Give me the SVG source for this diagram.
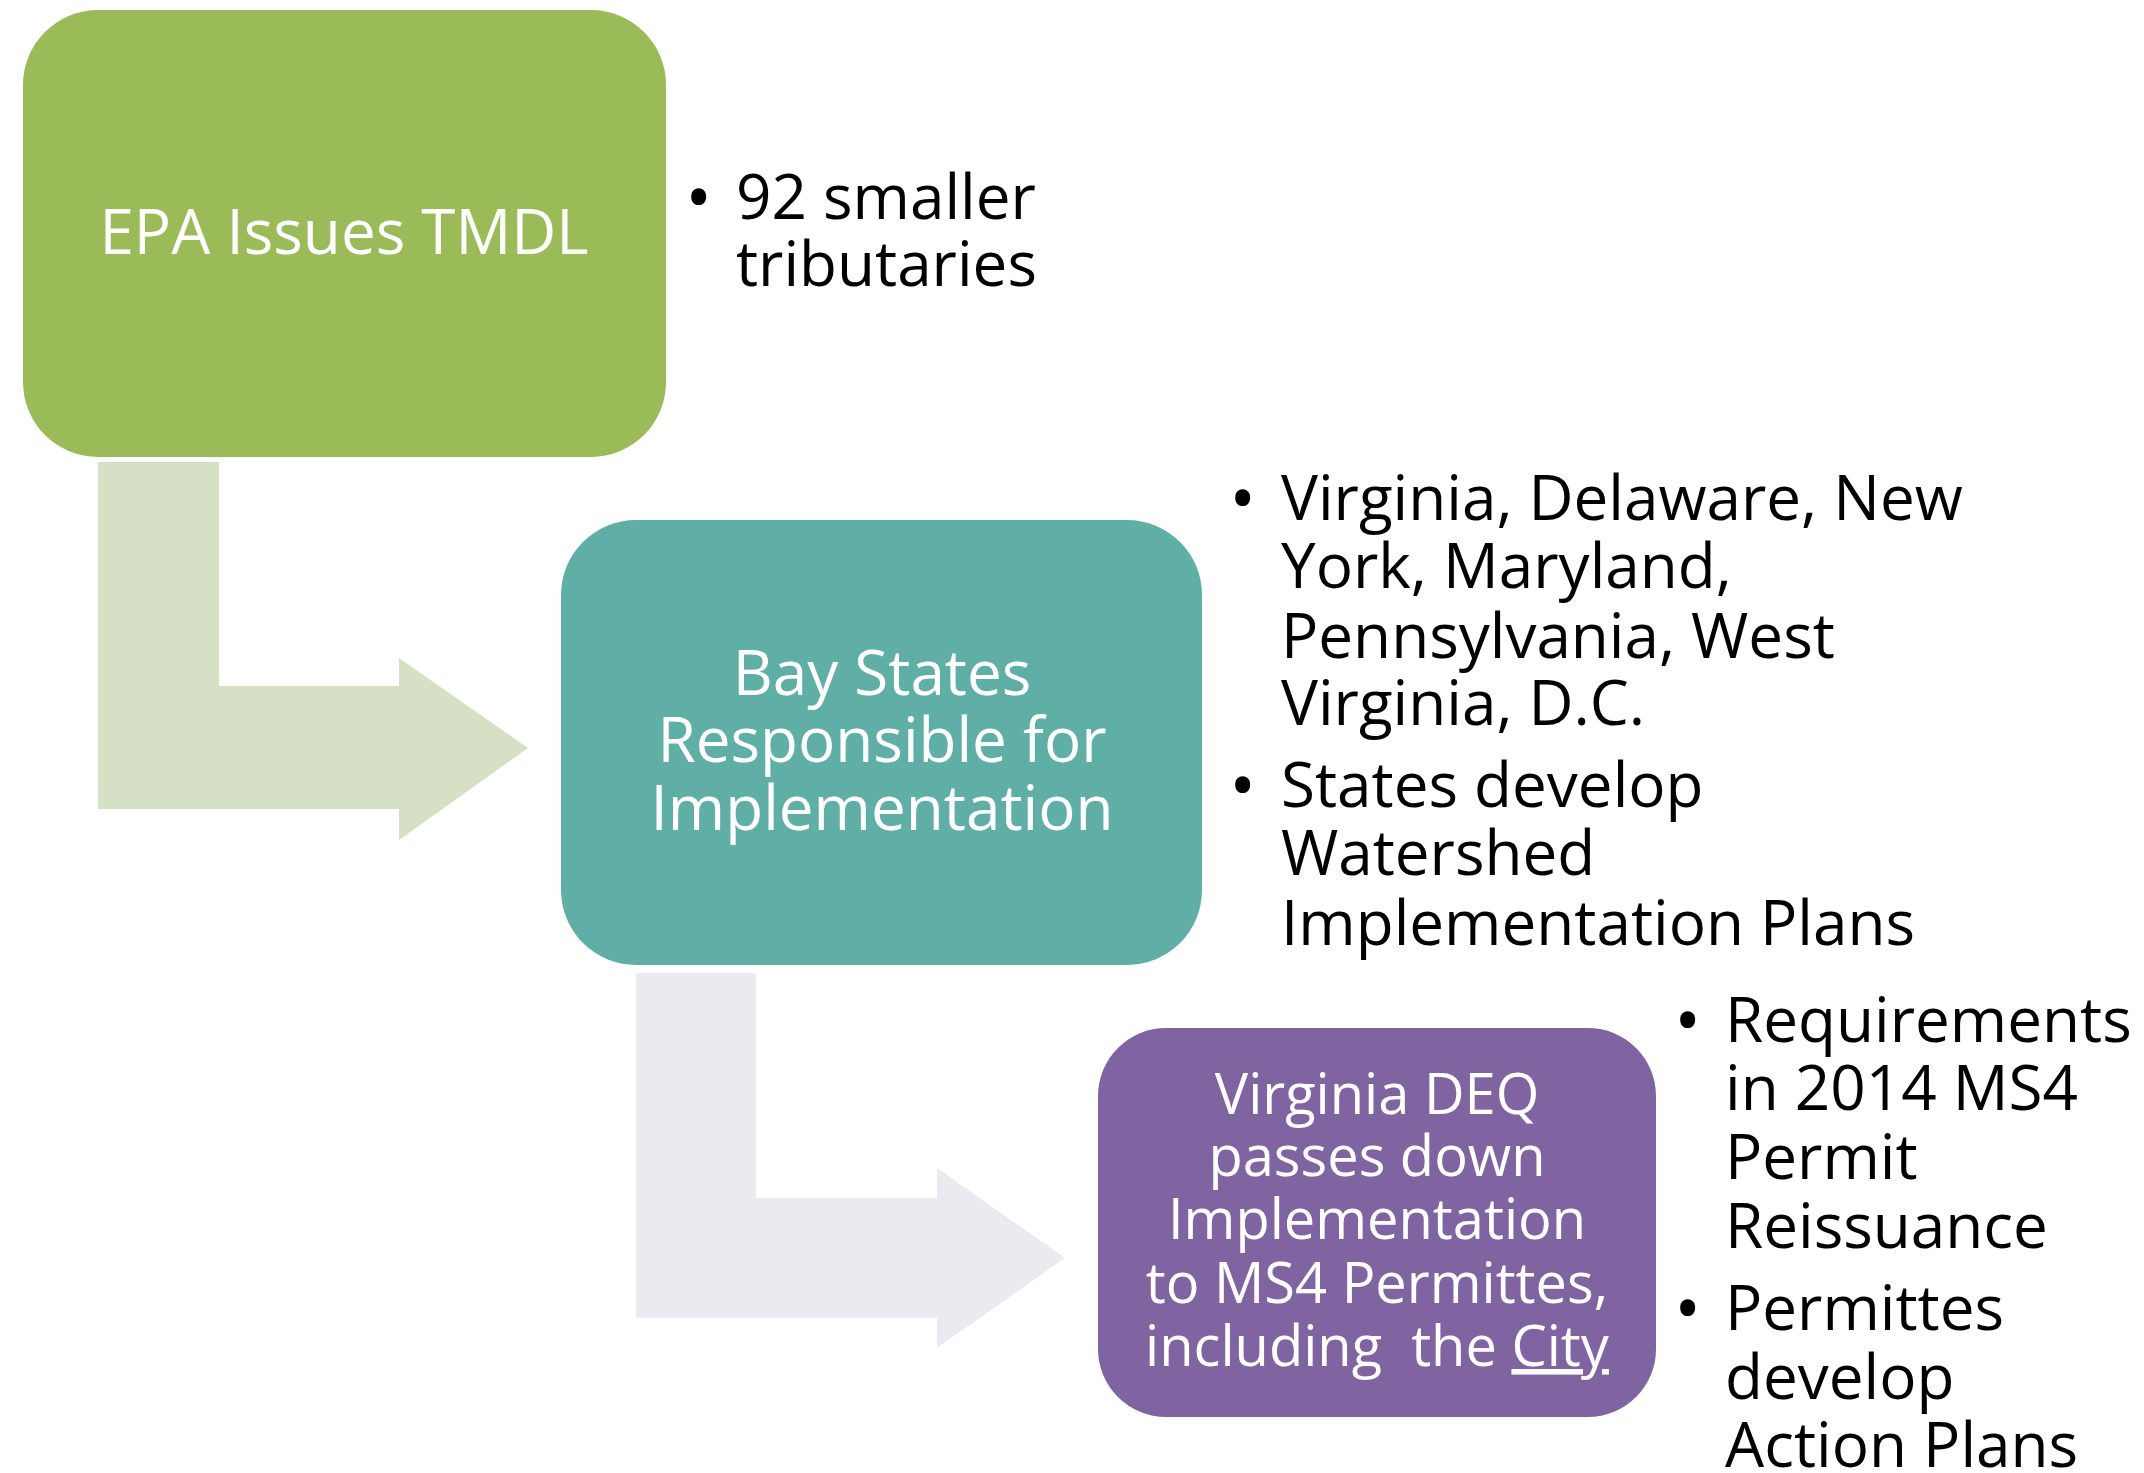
<svg xmlns="http://www.w3.org/2000/svg" width="2144" height="1473" viewBox="0 0 2144 1473">
<style>
.box-text{font-family:"Open Sans","Noto Sans","Liberation Sans",sans-serif;fill:#ffffff;text-anchor:middle}
.bullet{font-family:"Open Sans","Noto Sans","Liberation Sans",sans-serif;fill:#000000;font-size:62px}
.dot{stroke:#000000;stroke-width:2}
</style>
<rect width="2144" height="1473" fill="#ffffff"/>
<g id="connectors">
<polygon id="arrow1" points="98,462 219,462 219,686 399,686 399,658 528,748 399,840 399,809 98,809" fill="#D6E0C5"/>
<polygon id="arrow2" points="636,973 756,973 756,1198 937,1198 937,1168 1065,1258 937,1348 937,1318 636,1318" fill="#EBEAF0"/>
</g>
<g id="node1">
<rect x="23" y="10" width="643" height="447" rx="75" ry="75" fill="#9BBB59"/>
<text class="box-text" x="344" y="254" font-size="62">EPA Issues TMDL</text>
</g>
<g id="note1">
<text class="bullet dot" x="687" y="219">•</text>
<text class="bullet" x="736" y="219">92 smaller</text>
<text class="bullet" x="736" y="286">tributaries</text>
</g>
<g id="node2">
<rect x="561" y="520" width="641" height="445" rx="75" ry="75" fill="#5FAFA6"/>
<text class="box-text" x="882" y="695" font-size="62">Bay States</text>
<text class="box-text" x="882" y="762" font-size="62">Responsible for</text>
<text class="box-text" x="882" y="830" font-size="62">Implementation</text>
</g>
<g id="note2">
<text class="bullet dot" x="1231" y="520">•</text>
<text class="bullet" x="1281" y="520">Virginia, Delaware, New</text>
<text class="bullet" x="1281" y="588">York, Maryland,</text>
<text class="bullet" x="1281" y="658">Pennsylvania, West</text>
<text class="bullet" x="1281" y="725">Virginia, D.C.</text>
<text class="bullet dot" x="1231" y="807">•</text>
<text class="bullet" x="1281" y="807">States develop</text>
<text class="bullet" x="1281" y="875">Watershed</text>
<text class="bullet" x="1281" y="945">Implementation Plans</text>
</g>
<g id="node3">
<rect x="1098" y="1028" width="558" height="389" rx="68" ry="68" fill="#8064A2"/>
<text class="box-text" x="1377" y="1114" font-size="56">Virginia DEQ</text>
<text class="box-text" x="1377" y="1176" font-size="56">passes down</text>
<text class="box-text" x="1377" y="1239" font-size="56">Implementation</text>
<text class="box-text" x="1377" y="1303" font-size="56">to MS4 Permittes,</text>
<text class="box-text" x="1377" y="1366" font-size="56" xml:space="preserve">including  the <tspan text-decoration="underline">City</tspan></text>
</g>
<g id="note3">
<text class="bullet dot" x="1676" y="1042">•</text>
<text class="bullet" x="1725" y="1042">Requirements</text>
<text class="bullet" x="1725" y="1110">in 2014 MS4</text>
<text class="bullet" x="1725" y="1179">Permit</text>
<text class="bullet" x="1725" y="1248">Reissuance</text>
<text class="bullet dot" x="1676" y="1330">•</text>
<text class="bullet" x="1725" y="1330">Permittes</text>
<text class="bullet" x="1725" y="1399">develop</text>
<text class="bullet" x="1725" y="1467">Action Plans</text>
</g>
</svg>
